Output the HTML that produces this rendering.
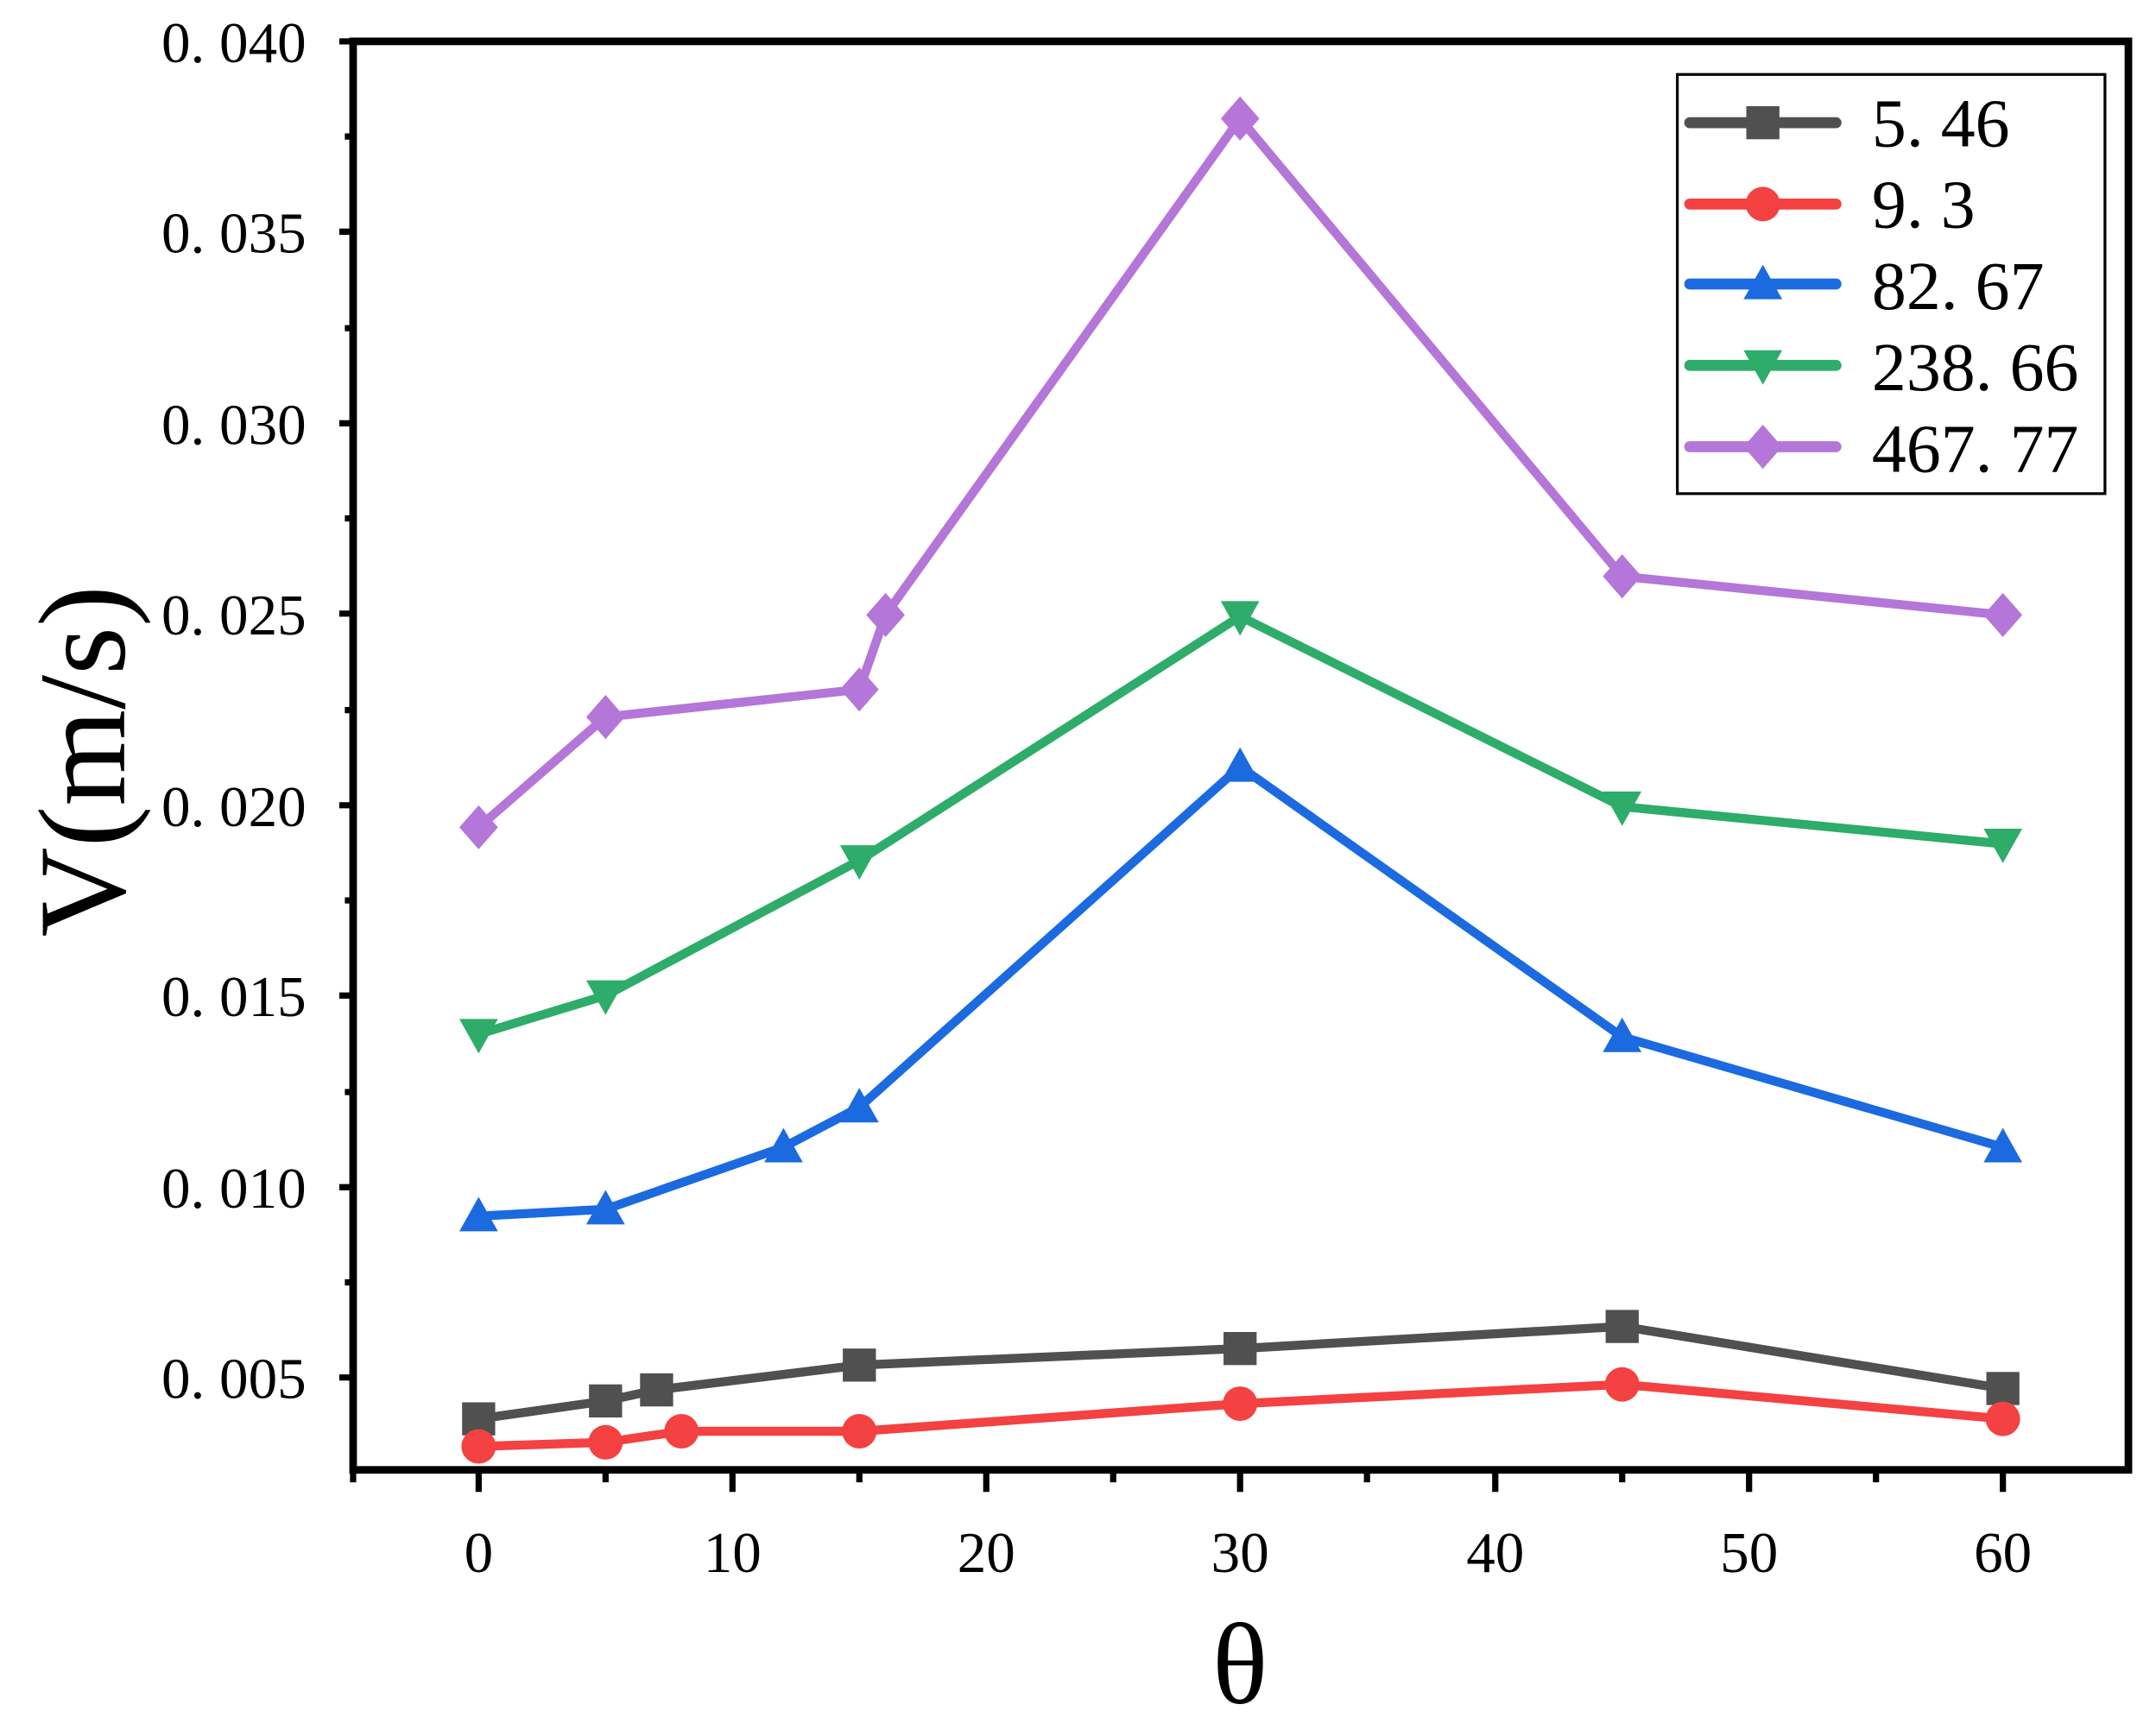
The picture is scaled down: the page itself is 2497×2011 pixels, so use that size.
<!DOCTYPE html>
<html><head><style>html,body{margin:0;padding:0;background:#fff}svg{display:block}</style></head>
<body>
<svg width="2497" height="2011" viewBox="0 0 1563 1259" preserveAspectRatio="none" xmlns="http://www.w3.org/2000/svg" font-family="'Liberation Serif', serif">
<defs>
<rect id="sq" x="-12" y="-12" width="24" height="24" fill="#505050"/>
<circle id="ci" r="12.5" fill="#f44141"/>
<polygon id="tu" points="0,-14 14,11 -14,11" fill="#1b6ae0"/>
<polygon id="td" points="0,14 14,-11 -14,-11" fill="#2eac6a"/>
<polygon id="di" points="0,-16 14,0 0,16 -14,0" fill="#b476d8"/>
</defs>
<g fill="none" stroke-width="6.5" stroke-linejoin="round">
<polyline stroke="#505050" points="347,1029 439,1016 476,1008 623,990 899,978 1176,962 1452,1007"/>
<polyline stroke="#f44141" points="347,1049 439,1046 494,1038 623,1038 899,1018 1176,1004 1452,1029"/>
<polyline stroke="#1b6ae0" points="347,882 439,877 568,832 623,803 899,556 1176,752 1452,832"/>
<polyline stroke="#2eac6a" points="347,750 439,722 623,624 899,447 1176,585 1452,612"/>
<polyline stroke="#b476d8" points="347,600 439,520 623,500 642,446 899,86 1176,418 1452,446"/>
</g>
<g>
<use href="#sq" x="347" y="1029"/><use href="#sq" x="439" y="1016"/><use href="#sq" x="476" y="1008"/><use href="#sq" x="623" y="990"/><use href="#sq" x="899" y="978"/><use href="#sq" x="1176" y="962"/><use href="#sq" x="1452" y="1007"/>
<use href="#ci" x="347" y="1049"/><use href="#ci" x="439" y="1046"/><use href="#ci" x="494" y="1038"/><use href="#ci" x="623" y="1038"/><use href="#ci" x="899" y="1018"/><use href="#ci" x="1176" y="1004"/><use href="#ci" x="1452" y="1029"/>
<use href="#tu" x="347" y="882"/><use href="#tu" x="439" y="877"/><use href="#tu" x="568" y="832"/><use href="#tu" x="623" y="803"/><use href="#tu" x="899" y="556"/><use href="#tu" x="1176" y="752"/><use href="#tu" x="1452" y="832"/>
<use href="#td" x="347" y="750"/><use href="#td" x="439" y="722"/><use href="#td" x="623" y="624"/><use href="#td" x="899" y="447"/><use href="#td" x="1176" y="585"/><use href="#td" x="1452" y="612"/>
<use href="#di" x="347" y="600"/><use href="#di" x="439" y="520"/><use href="#di" x="623" y="500"/><use href="#di" x="642" y="446"/><use href="#di" x="899" y="86"/><use href="#di" x="1176" y="418"/><use href="#di" x="1452" y="446"/>
</g>
<rect x="256" y="30" width="1287" height="1036" fill="none" stroke="#000" stroke-width="5.5"/>
<g stroke="#000" stroke-width="4.5">
<path d="M256,30h-10M256,168h-10M256,307h-10M256,445h-10M256,584h-10M256,722h-10M256,861h-10M256,999h-10"/>
<path d="M256,99h-6M256,238h-6M256,376h-6M256,515h-6M256,653h-6M256,792h-6M256,930h-6"/>
<path d="M347,1066v16M531,1066v16M715,1066v16M899,1066v16M1084,1066v16M1268,1066v16M1452,1066v16"/>
<path d="M256,1066v9M439,1066v9M623,1066v9M807,1066v9M991,1066v9M1176,1066v9M1360,1066v9"/>
</g>
<g font-size="42" text-anchor="end">
<text x="222" y="45">0. 040</text><text x="222" y="183">0. 035</text><text x="222" y="322">0. 030</text><text x="222" y="460">0. 025</text><text x="222" y="599">0. 020</text><text x="222" y="737">0. 015</text><text x="222" y="876">0. 010</text><text x="222" y="1014">0. 005</text>
</g>
<g font-size="42" text-anchor="middle">
<text x="347" y="1140">0</text><text x="531" y="1140">10</text><text x="715" y="1140">20</text><text x="899" y="1140">30</text><text x="1084" y="1140">40</text><text x="1268" y="1140">50</text><text x="1452" y="1140">60</text>
</g>
<text x="899" y="1235" font-size="84" text-anchor="middle">θ</text>
<text transform="translate(90,552) rotate(-90)" font-size="90" text-anchor="middle">V(m/s)</text>
<rect x="1216" y="54" width="310" height="304" fill="#fff" stroke="#000" stroke-width="2"/>
<g stroke-width="8" stroke-linecap="round">
<line x1="1225" y1="89" x2="1331" y2="89" stroke="#505050"/>
<line x1="1225" y1="148" x2="1331" y2="148" stroke="#f44141"/>
<line x1="1225" y1="206" x2="1331" y2="206" stroke="#1b6ae0"/>
<line x1="1225" y1="265" x2="1331" y2="265" stroke="#2eac6a"/>
<line x1="1225" y1="324" x2="1331" y2="324" stroke="#b476d8"/>
</g>
<use href="#sq" x="1278" y="89"/><use href="#ci" x="1278" y="148"/><use href="#tu" x="1278" y="206"/><use href="#td" x="1278" y="265"/><use href="#di" x="1278" y="324"/>
<g font-size="50">
<text x="1357" y="106">5. 46</text><text x="1357" y="165">9. 3</text><text x="1357" y="224">82. 67</text><text x="1357" y="283">238. 66</text><text x="1357" y="342">467. 77</text>
</g>
</svg>
</body></html>
